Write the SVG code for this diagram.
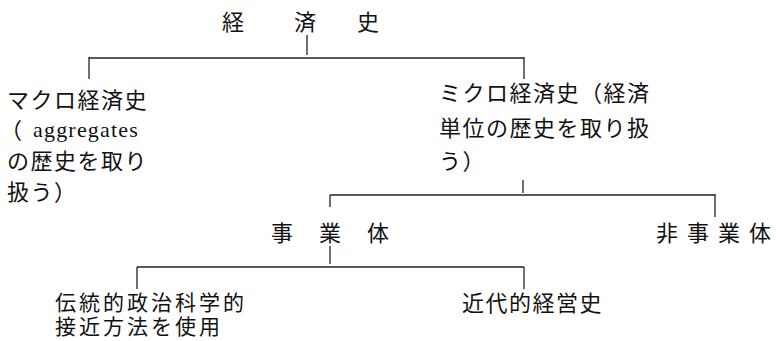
<svg xmlns="http://www.w3.org/2000/svg" width="776" height="341" viewBox="0 0 776 341">
<style>
.t{font-family:"Noto Sans CJK JP","Noto Sans CJK SC",sans-serif;font-size:22px;fill:#111;letter-spacing:1.5px}
.s{font-size:21px;letter-spacing:3px}
.l{font-family:"Liberation Serif",serif;font-size:22px;letter-spacing:1.2px}
.c line{stroke:#222;stroke-width:1.3}
</style>
<rect width="776" height="341" fill="#fff"/>
<g class="c" id="connectors">
<line x1="307" y1="35" x2="307" y2="55"/>
<line x1="89" y1="58" x2="524" y2="58"/>
<line x1="89" y1="57" x2="89" y2="79"/>
<line x1="524" y1="57" x2="524" y2="79"/>
<line x1="523" y1="180" x2="523" y2="193"/>
<line x1="330" y1="195" x2="715" y2="195"/>
<line x1="330" y1="195" x2="330" y2="207"/>
<line x1="715" y1="194" x2="715" y2="217"/>
<line x1="330" y1="246" x2="330" y2="264"/>
<line x1="137" y1="267" x2="524" y2="267"/>
<line x1="137" y1="267" x2="137" y2="289"/>
<line x1="524" y1="267" x2="524" y2="289"/>
</g>
<g id="root" class="t">
<text x="222" y="30">経</text>
<text x="294" y="30">済</text>
<text x="357" y="30">史</text>
</g>
<g id="macro" class="t">
<text x="7" y="108">マクロ経済史</text>
<text x="0" y="138">（</text>
<text x="33" y="137" class="l">aggregates</text>
<text x="7" y="169">の歴史を取り</text>
<text x="7" y="200">扱う）</text>
</g>
<g id="micro" class="t">
<text x="439" y="101">ミクロ経済史（経済</text>
<text x="439" y="136">単位の歴史を取り扱</text>
<text x="439" y="169">う）</text>
</g>
<g id="business" class="t">
<text x="271" y="241">事</text>
<text x="319" y="241">業</text>
<text x="367" y="241">体</text>
</g>
<g id="nonbusiness" class="t">
<text x="656" y="241">非</text>
<text x="687" y="241">事</text>
<text x="718" y="241">業</text>
<text x="749" y="241">体</text>
</g>
<g id="traditional" class="t s">
<text x="55" y="310">伝統的政治科学的</text>
<text x="55" y="334">接近方法を使用</text>
</g>
<g id="modern" class="t">
<text x="462" y="311">近代的経営史</text>
</g>
</svg>
